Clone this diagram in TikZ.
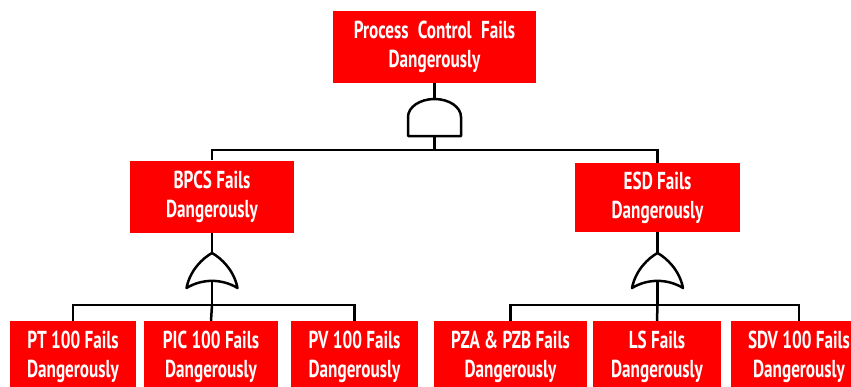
\documentclass[tikz,border=0pt]{standalone}
\usepackage{fontspec}
\setmainfont[FakeStretch=0.7]{PT Sans}
\usepackage{tikz}
\definecolor{evred}{RGB}{255,0,0}

\begin{document}
\begin{tikzpicture}[x=1pt,y=-1pt]

	\tikzstyle event box=[fill=evred, text=white, align=center, inner sep=0pt, minimum height=72pt, font=\bfseries\fontsize{24.5}{29}\selectfont];
	\tikzstyle gate lines=[line width=2.5pt, fill=white, line join=round];
	\tikzstyle tree lines=[line width=2.5pt];

	\useasboundingbox (0,0) rectangle (851,386);
	\clip (0,0) rectangle (851,386);

		% events
		\node[event box, minimum width=203pt] (top) at (434.5,47) {Process\hspace{5pt} Control\hspace{5pt} Fails\\Dangerously};
		\node[event box, minimum width=164pt] (bpcs) at (212,196.5) {BPCS Fails\\Dangerously};
		\node[event box, minimum width=165pt, minimum height=69pt] (esd) at (657.5,197.5) {ESD Fails\\Dangerously};

		\foreach \x/\w/\name/\txt in {73/126/pt/PT 100 Fails,211/134/pic/PIC 100 Fails,354.5/127/pv/PV 100 Fails,510.5/153/pz/PZA \& PZB Fails,657/128/ls/LS Fails,799/136/sdv/SDV 100 Fails}
			\node[event box, minimum width=\w pt] (\name) at (\x,357) {\txt\\Dangerously};

		% and gate
		\coordinate (and-in) at (434.5,99);
		\coordinate (and-out) at (434.5,136);
		\coordinate (and-split) at (434.5,150);
		\draw[gate lines] (408,136) -- (408,117) arc[start angle=180, end angle=0, x radius=26.5pt, y radius=18pt] -- (461,136) -- cycle;

		% or gates
		\foreach \x/\gate in {212/bpcs,657.5/esd} {
			\coordinate (\gate-in) at (\x,253);
			\coordinate (\gate-out) at (\x,281);
			\coordinate (\gate-split) at (\x,305);
			\draw[gate lines] (\x,253) .. controls ({\x+9},258) and ({\x+22},270) .. ({\x+25.5},288)
				.. controls ({\x+10},278.5) and ({\x-10},278.5) .. ({\x-25.5},288)
				.. controls ({\x-22},270) and ({\x-9},258) .. (\x,253) -- cycle;
		}

		% connectors
		\draw[tree lines] (top.south) -- (and-in);
		\draw[tree lines] (and-out) -- (and-split);
		\draw[tree lines] (bpcs.north) |- (and-split) -| (esd.north);

		\draw[tree lines] (bpcs.south) -- (bpcs-in);
		\draw[tree lines] (bpcs-out) -- (bpcs-split);
		\draw[tree lines] (pt.north) |- (bpcs-split) -| (pv.north);
		\draw[tree lines] (bpcs-split) -- (pic.north);

		\draw[tree lines] (esd.south) -- (esd-in);
		\draw[tree lines] (esd-out) -- (esd-split);
		\draw[tree lines] (pz.north) |- (esd-split) -| (sdv.north);
		\draw[tree lines] (esd-split) -- (ls.north);

\end{tikzpicture}
\end{document}
